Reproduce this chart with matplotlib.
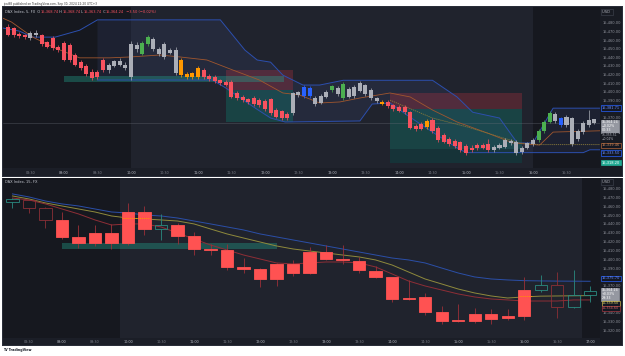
import matplotlib
matplotlib.use("Agg")
import matplotlib.pyplot as plt
from matplotlib.patches import Rectangle
import numpy as np

plt.rcParams['font.family'] = ['DejaVu Sans']

W, H = 625, 356

# ---------------- top panel: DAX Index, 5-minute bars ----------------
top_first_bar = "08:10"
top_bar_minutes = 5
top_open = [15476, 15474, 15468, 15466, 15463, 15469, 15466, 15458, 15463, 15452,
            15457, 15455, 15443, 15435, 15430, 15424, 15424, 15437, 15426, 15431,
            15436, 15432, 15418, 15455, 15445, 15456, 15462, 15450, 15441, 15446,
            15449, 15437, 15421, 15418, 15418, 15426, 15419, 15418, 15414, 15412,
            15412, 15399, 15395, 15392, 15394, 15391, 15390, 15392, 15380, 15378,
            15375, 15376, 15397, 15396, 15405, 15394, 15388, 15395, 15403, 15405,
            15393, 15404, 15396, 15402, 15408, 15403, 15393, 15389, 15389, 15385,
            15383, 15383, 15377, 15361, 15363, 15360, 15368, 15359, 15351, 15346,
            15344, 15342, 15338, 15336, 15339, 15339, 15340, 15333, 15336, 15337,
            15344, 15343, 15331, 15336, 15340, 15345, 15355, 15366, 15375, 15370,
            15362, 15370, 15346, 15354, 15362, 15368.74]
top_high = [15479, 15476, 15470, 15468, 15471, 15472, 15468, 15460, 15465, 15455,
            15459, 15457, 15446, 15437, 15433, 15427, 15426, 15440, 15434, 15438,
            15440, 15435, 15460, 15458, 15459, 15466, 15464, 15452, 15458, 15451,
            15452, 15440, 15424, 15424, 15430, 15428, 15421, 15420, 15416, 15414,
            15414, 15402, 15397, 15394, 15396, 15393, 15392, 15394, 15382, 15380,
            15377, 15401, 15402, 15408, 15407, 15396, 15398, 15403, 15409, 15407,
            15412, 15406, 15408, 15413, 15410, 15405, 15395, 15391, 15391, 15387,
            15385, 15385, 15379, 15363, 15366, 15369, 15370, 15361, 15353, 15348,
            15346, 15344, 15340, 15339, 15341, 15341, 15346, 15339, 15341, 15347,
            15346, 15345, 15338, 15343, 15347, 15357, 15368, 15378, 15377, 15372,
            15374, 15372, 15357, 15367, 15380, 15368.74]
top_low = [15465, 15464, 15463, 15462, 15461, 15464, 15454, 15451, 15449, 15447,
           15436, 15435, 15430, 15426, 15419, 15414, 15415, 15424, 15423, 15429,
           15430, 15426, 15414, 15447, 15443, 15454, 15448, 15442, 15439, 15444,
           15420, 15418, 15416, 15416, 15416, 15416, 15413, 15411, 15409, 15407,
           15393, 15391, 15389, 15387, 15384, 15383, 15379, 15374, 15370, 15368,
           15368, 15374, 15395, 15394, 15394, 15384, 15386, 15393, 15401, 15396,
           15391, 15393, 15394, 15400, 15396, 15391, 15388, 15385, 15382, 15379,
           15377, 15375, 15357, 15355, 15356, 15358, 15353, 15343, 15341, 15338,
           15336, 15331, 15328, 15331, 15333, 15334, 15331, 15331, 15334, 15335,
           15339, 15328, 15329, 15334, 15338, 15343, 15353, 15364, 15365, 15360,
           15360, 15338, 15344, 15352, 15360, 15363.74]
top_close = [15467, 15466, 15465, 15464, 15469, 15466, 15456, 15453, 15451, 15449,
             15438, 15437, 15432, 15428, 15421, 15417, 15418, 15426, 15432, 15436,
             15432, 15428, 15456, 15450, 15457, 15464, 15450, 15444, 15456, 15449,
             15423, 15420, 15418, 15422, 15428, 15418, 15415, 15413, 15411, 15409,
             15395, 15393, 15391, 15389, 15386, 15385, 15381, 15376, 15372, 15370,
             15370, 15399, 15400, 15406, 15396, 15386, 15396, 15401, 15407, 15398,
             15410, 15395, 15406, 15411, 15398, 15393, 15390, 15387, 15384, 15381,
             15379, 15377, 15359, 15357, 15358, 15367, 15355, 15345, 15343, 15340,
             15338, 15333, 15330, 15333, 15335, 15336, 15333, 15337, 15339, 15345,
             15341, 15330, 15336, 15341, 15345, 15355, 15366, 15376, 15367, 15362,
             15372, 15340, 15355, 15365, 15367.74, 15364.24]
# bar colouring of the indicator: r=red, g=grey, G=green, b=blue, o=orange
top_codes = ("rrrr" "gg" "rrrrrrrrrrrr" "gggggg" "GG" "ggggg" "oooo"
             "rrrrrrrrrrrrrrrr" "gg" "bb" "ggg" "G" "g" "G" "gggggg" "o"
             "rrrrrrr" "o" "rrrrrrrrrrr" "gggggggg" "GGG" "g" "b" "gggggg")

# channel lines (time, price)
top_upper_t = ["08:05", "08:20", "08:32", "08:52", "09:14", "09:30", "11:20", "11:31",
               "11:42", "11:53", "12:05", "12:16", "12:34", "12:49", "13:10", "14:30",
               "14:52", "15:06", "15:30", "15:46", "16:00", "16:18", "17:00"]
top_upper_p = [15474.6, 15471.0, 15464.0, 15464.0, 15472.0, 15484.0, 15484.0, 15466.5,
               15449.0, 15437.5, 15435.0, 15420.0, 15408.5, 15408.5, 15414.0, 15414.0,
               15394.7, 15377.0, 15370.3, 15341.4, 15341.4, 15381.71, 15381.71]
top_lower_t = ["09:30", "11:13", "11:25", "11:38", "11:51", "12:05", "12:18", "13:25",
               "13:36", "13:52", "14:07", "14:30", "14:55", "15:01", "16:45", "16:51", "17:00"]
top_lower_p = [15414.3, 15414.3, 15405.0, 15393.5, 15382.0, 15370.3, 15365.7, 15366.9,
               15386.5, 15387.7, 15373.8, 15354.0, 15333.3, 15330.2, 15330.2, 15333.5, 15333.5]
top_mid_t = ["08:05", "08:13", "08:32", "08:52", "09:14", "09:41", "09:59", "10:26", "10:44",
             "11:08", "11:31", "11:55", "12:16", "12:31", "12:49", "13:07", "13:25", "13:52",
             "14:10", "14:30", "14:52", "15:19", "15:42", "16:06", "16:18", "17:00"]
top_mid_p = [15486.1, 15481.5, 15464.0, 15451.4, 15440.0, 15440.0, 15441.0, 15443.3, 15441.0,
             15437.5, 15426.0, 15414.3, 15399.3, 15397.0, 15387.7, 15388.9, 15393.5, 15399.3,
             15394.7, 15379.6, 15365.7, 15353.0, 15341.4, 15339.0, 15354.0, 15355.51]
top_signal_t = ["13:52", "14:30", "15:01", "15:48", "16:06", "17:00"]
top_signal_p = [15391.0, 15370.3, 15360.0, 15341.4, 15339.46, 15339.46]

# zones: (start, end, low, high)
zone_strip = ("09:00", "12:17", 15412.5, 15419.5)
pos1_stop = ("11:25", "12:25", 15402.8, 15425.9)
pos1_target = ("11:25", "12:25", 15365.7, 15402.8)
pos2_stop = ("13:52", "15:50", 15380.8, 15399.3)
pos2_target = ("13:52", "15:50", 15318.2, 15380.8)
pos2_band = ("13:52", "15:50", 15318.2, 15334.0)

# ---------------- bottom panel: DAX Index, 15-minute bars ----------------
bot_first_bar = "08:15"
bot_bar_minutes = 15
bot_open = [15465.5, 15458.5, 15445, 15445, 15425.5, 15430, 15430, 15454, 15454, 15435,
            15439, 15427, 15412.5, 15411, 15392, 15390, 15395, 15395, 15409, 15409,
            15401, 15399, 15387, 15380.5, 15357, 15358, 15341, 15332, 15339, 15339,
            15336.5, 15366, 15366, 15347, 15347, 15359.74]
bot_high = [15470, 15468, 15460, 15454, 15439, 15439, 15440, 15464, 15461, 15452,
            15441, 15431, 15418, 15418, 15402, 15391, 15396, 15400, 15414, 15417,
            15417, 15403, 15393, 15381, 15377, 15363, 15348, 15350, 15345, 15344,
            15344, 15380.5, 15383, 15386, 15388, 15370]
bot_low = [15458, 15453, 15436, 15423, 15413, 15415, 15412, 15417, 15428, 15422,
           15418, 15405, 15405, 15389, 15385, 15369, 15370, 15382, 15384, 15400,
           15395, 15385, 15379, 15352, 15354, 15338, 15327, 15330, 15328, 15327,
           15332, 15332, 15363.5, 15334, 15345, 15352]
bot_close = [15468.5, 15467, 15458, 15426, 15419, 15419, 15419, 15419, 15435, 15439,
             15427, 15412, 15411.5, 15392, 15390, 15378, 15378, 15385, 15385, 15401,
             15400, 15388, 15380.5, 15355.7, 15356, 15341, 15331, 15331, 15331, 15333,
             15334, 15336.5, 15371.5, 15371.5, 15359.74, 15364.24]
# R = filled red, T = hollow teal, D = hollow dark red
bot_codes = "TDDRRRRRRTRRRRRRRRRRRRRRRRRRRRRRTDTT"
bot_ma_slow = [15474.4, 15471.0, 15466.4, 15463.1, 15460.8, 15457.4, 15454.0, 15452.9, 15450.6, 15449.5,
               15447.2, 15443.8, 15440.5, 15437.1, 15433.7, 15429.2, 15425.8, 15422.4, 15419.0, 15415.6,
               15412.2, 15408.8, 15405.4, 15402.0, 15399.8, 15396.4, 15390.7, 15385.1, 15380.6, 15378.3,
               15377.2, 15376.4, 15376.1, 15375.9, 15375.8, 15375.7]
bot_ma_mid = [15472.1, 15468.7, 15464.2, 15460.8, 15457.4, 15454.0, 15449.5, 15447.2, 15446.1, 15445.0,
              15443.8, 15440.5, 15434.8, 15429.2, 15424.6, 15420.1, 15415.6, 15412.2, 15409.9, 15407.7,
              15405.4, 15403.2, 15399.8, 15394.1, 15386.2, 15378.3, 15372.7, 15367.0, 15362.5, 15359.1,
              15356.8, 15358.0, 15358.9, 15359.1, 15359.3, 15359.5]
bot_ma_fast = [15469.8, 15467.6, 15463.1, 15457.4, 15451.8, 15445.0, 15439.3, 15440.5, 15440.5, 15437.1,
               15430.3, 15423.5, 15416.7, 15411.1, 15405.4, 15400.9, 15396.4, 15395.3, 15396.4, 15397.5,
               15397.5, 15396.4, 15391.9, 15384.0, 15376.0, 15370.4, 15365.9, 15361.4, 15358.0, 15355.7,
               15354.6, 15353.4, 15353.4, 15353.4, 15354.6, 15354.6]
bot_zone = ("09:00", "12:15", 15412.0, 15419.0)
bot_marks = [("09:55", "10:20", 15447.6), ("15:55", "16:07", 15359.1)]

price_ticks = [15480, 15470, 15460, 15450, 15440, 15430, 15420, 15410, 15400, 15390,
               15380, 15370, 15360, 15350, 15340, 15330, 15320]
top_hidden_ticks = [15380, 15360, 15350, 15340, 15330, 15320]   # under value labels
bot_hidden_ticks = [15380, 15360, 15350]
top_time_ticks = ["08:30", "09:00", "09:30", "10:00", "10:30", "11:00", "11:30", "12:00", "12:30",
                  "13:00", "13:30", "14:00", "14:30", "15:00", "15:30", "16:00", "16:30"]
bot_time_ticks = top_time_ticks + ["17:00"]

# ---------------- helpers ----------------
def m(s):
    h, mm = s.split(":")
    return int(h) * 60 + int(mm)

def frect(x0, y0, x1, y1):
    return [x0 / W, 1 - y1 / H, (x1 - x0) / W, (y1 - y0) / H]

def fig_box(x0, y0, x1, y1, color, z=-1):
    fig.add_artist(Rectangle((x0 / W, 1 - y1 / H), (x1 - x0) / W, (y1 - y0) / H,
                             transform=fig.transFigure, facecolor=color,
                             edgecolor=color, linewidth=0, zorder=z))

BG_LIGHT = '#20232d'
BG_DARK = '#16181f'
STRIP = '#1b1e27'
PAXIS = '#181b23'
GRAYTXT = '#8f929b'
RED = '#f7525f'
TEAL = '#22ab94'

fig = plt.figure(figsize=(6.25, 3.56), dpi=100)
fig.patch.set_facecolor('white')

# frames / strips (drawn below the axes)
fig_box(2, 6, 623, 176.5, '#2a2e39', z=-3)
fig_box(3, 7, 622, 176, STRIP, z=-2)
fig_box(600, 7, 622, 176, PAXIS, z=-1)
fig_box(2, 177.5, 623, 346, '#2a2e39', z=-3)
fig_box(3, 178, 622, 345, STRIP, z=-2)
fig_box(600, 178, 622, 345, PAXIS, z=-1)

ax1 = fig.add_axes(frect(3, 7, 600, 168))
ax2 = fig.add_axes(frect(3, 178, 600, 338))
for ax in (ax1, ax2):
    ax.set_facecolor(BG_LIGHT)
    for s in ax.spines.values():
        s.set_visible(False)
    ax.set_xticks([])
    ax.set_yticks([])

ax1.set_xlim(485.4, 1020.0)
ax1.set_ylim(15312.4, 15498.9)
ax2.set_xlim(486.4, 1029.0)
ax2.set_ylim(15311.6, 15492.4)

# session shading
ax1.axvspan(400, 600, color=BG_DARK, zorder=0, lw=0)
ax1.axvspan(960, 1100, color=BG_DARK, zorder=0, lw=0)
ax2.axvspan(400, 592.5, color=BG_DARK, zorder=0, lw=0)
ax2.axvspan(1012.5, 1100, color=BG_DARK, zorder=0, lw=0)

# ---------------- top panel drawing ----------------
t0 = m(top_first_bar)
top_t = np.array([t0 + top_bar_minutes * i for i in range(len(top_close))])
ut = np.array([m(s) for s in top_upper_t]); up = np.array(top_upper_p)
lt = np.array([m(s) for s in top_lower_t]); lp = np.array(top_lower_p)
sel = ut >= m("09:30")
poly_x = np.concatenate([ut[sel], lt[::-1]])
poly_y = np.concatenate([up[sel], lp[::-1]])
ax1.fill(poly_x, poly_y, color='#3a4a7a', alpha=0.2, lw=0, zorder=1)
ax1.plot(ut, up, color='#2c4fae', lw=0.7, zorder=2)
ax1.plot(lt, lp, color='#2c4fae', lw=0.7, zorder=2)
ax1.plot([m(s) for s in top_mid_t], top_mid_p, color='#a0562e', lw=0.6, zorder=2)
ax1.plot([m(s) for s in top_signal_t], top_signal_p, color='#8a7a3a', lw=0.6, ls=(0, (1.5, 1)), zorder=2)

def zone(ax, z, color, alpha, zord=1.5):
    ax.add_patch(Rectangle((m(z[0]), z[2]), m(z[1]) - m(z[0]), z[3] - z[2],
                           facecolor=color, alpha=alpha, lw=0, zorder=zord))

zone(ax1, pos1_stop, '#f23645', 0.22)
zone(ax1, pos1_target, '#089981', 0.28)
zone(ax1, pos2_stop, '#f23645', 0.22)
zone(ax1, pos2_target, '#089981', 0.28)
zone(ax1, pos2_band, '#131722', 0.35)
zone(ax1, zone_strip, TEAL, 0.35, zord=1.6)

ax1.axhline(top_close[-1], color='#6a6d78', lw=0.4, alpha=0.6, zorder=1.7)

cmap = {'r': RED, 'g': '#abaeb7', 'G': '#4caf50', 'b': '#2962ff', 'o': '#ff9800'}
top_cols = [cmap[c] for c in top_codes]
o = np.array(top_open); c = np.array(top_close)
ax1.vlines(top_t, top_low, top_high, colors=top_cols, lw=0.5, zorder=3)
ax1.bar(top_t, np.maximum(np.abs(c - o), 0.4), bottom=np.minimum(o, c), width=3.6,
        color=top_cols, lw=0, zorder=4)

# ---------------- bottom panel drawing ----------------
b0 = m(bot_first_bar)
bot_t = np.array([b0 + bot_bar_minutes * i for i in range(len(bot_close))])
ax2.plot(bot_t, bot_ma_slow, color='#2b4fa8', lw=0.7, zorder=2)
ax2.plot(bot_t, bot_ma_mid, color='#8f8a3c', lw=0.7, zorder=2)
ax2.plot(bot_t, bot_ma_fast, color='#8e2e36', lw=0.7, zorder=2)
zone(ax2, bot_zone, TEAL, 0.35)
for a, b, p in bot_marks:
    ax2.plot([m(a), m(b)], [p, p], color='#ff9800', lw=0.7, ls=(0, (1, 1)), zorder=6)

bo = np.array(bot_open); bc = np.array(bot_close)
edge_map = {'R': '#ff5252', 'T': '#2a8a80', 'D': '#8b2f36'}
wick_map = {'R': '#9c3038', 'T': '#2a8a80', 'D': '#8b2f36'}
for i, code in enumerate(bot_codes):
    top_b = max(bo[i], bc[i]); low_b = min(bo[i], bc[i])
    ax2.vlines(bot_t[i], top_b, bot_high[i], colors=wick_map[code], lw=0.6, zorder=3)
    ax2.vlines(bot_t[i], bot_low[i], low_b, colors=wick_map[code], lw=0.6, zorder=3)
    face = '#ff5252' if code == 'R' else 'none'
    ax2.bar(bot_t[i], max(top_b - low_b, 0.6), bottom=low_b, width=11,
            facecolor=face, edgecolor=edge_map[code], lw=0.6, zorder=4)

# ---------------- axes texts ----------------
FS = 2.6

def time_labels(ax, ticks, ypos):
    for s in ticks:
        col = '#b8bbc4' if s.endswith(":00") else '#7e818b'
        ax.text(m(s), ypos, s, transform=ax.get_xaxis_transform(), ha='center', va='center',
                fontsize=FS - 0.2, color=col, clip_on=False, zorder=10)

time_labels(ax1, top_time_ticks, -4.7 / 161)
time_labels(ax2, bot_time_ticks, -4.0 / 160)

def price_ticks_draw(ax, hidden):
    lo, hi = ax.get_ylim()
    for p in price_ticks:
        if lo < p < hi and p not in hidden:
            ax.text(1.004, p, f"{p:,.2f}", transform=ax.get_yaxis_transform(), ha='left',
                    va='center', fontsize=FS, color=GRAYTXT, clip_on=False, zorder=10)

price_ticks_draw(ax1, top_hidden_ticks)
price_ticks_draw(ax2, bot_hidden_ticks)

def plabel(ax, price, text, face, edge, color, fs=FS, pad=0.25):
    ax.text(1.0035, price, text, transform=ax.get_yaxis_transform(), ha='left', va='center',
            fontsize=fs, color=color, clip_on=False, zorder=20, linespacing=1.0,
            bbox=dict(boxstyle=f'square,pad={pad}', facecolor=face, edgecolor=edge, linewidth=0.5))

# unit labels
plabel(ax1, 15492.7, "USD  ", PAXIS, '#3a3e49', '#b2b5be')
plabel(ax2, 15487.6, "USD  ", PAXIS, '#3a3e49', '#b2b5be')

# top panel value labels
plabel(ax1, 15381.8, f"{top_upper_p[-1]:,.2f}", '#131722', '#2962ff', '#6d8fff')
chg_top = top_close[-1] - top_close[-2]
plabel(ax1, 15360.6, f"{top_close[-1]:,.2f}\n{chg_top / top_close[-2] * 100:+.2f}%\n00:33".replace('-', '\u2212'),
       '#9598a1', '#9598a1', 'white', fs=2.3, pad=0.2)
plabel(ax1, 15347.8, f"{top_mid_p[-1]:,.2f}\n\u22120.02%", PAXIS, PAXIS, '#b2b5be', fs=2.2, pad=0.1)
plabel(ax1, 15338.6, f"{top_signal_p[-1]:,.2f}", '#131722', '#b0643a', '#d08a5a', pad=0.2)
plabel(ax1, 15330.0, f"{top_lower_p[-1]:,.2f}", '#131722', '#2962ff', '#6d8fff', pad=0.2)
plabel(ax1, 15318.6, f"{pos2_target[2]:,.2f}", TEAL, TEAL, 'white', pad=0.2)

# bottom panel value labels
plabel(ax2, 15379.1, f"{bot_ma_slow[-1]:,.2f}", '#131722', '#2962ff', '#6d8fff', pad=0.2)
chg_bot = bot_close[-1] - bot_close[-2]
plabel(ax2, 15360.8, f"{bot_close[-1]:,.2f}\n{chg_bot / bot_close[-2] * 100:+.2f}%\n29:33",
       '#9598a1', '#9598a1', 'white', fs=2.3, pad=0.2)
plabel(ax2, 15350.9, f"{bot_ma_mid[-1]:,.2f}", '#131722', '#c9b44a', '#e0cf6a', fs=2.4, pad=0.15)
plabel(ax2, 15345.0, f"{bot_ma_fast[-1]:,.2f}", '#131722', '#a0343c', '#d06068', fs=2.4, pad=0.15)

# ---------------- header texts ----------------
fig.text(3 / W, 1 - 4.3 / H, "jicai98 published on TradingView.com, Sep 30, 2024 22:20 UTC+3",
         fontsize=2.1, color='#333333', va='center', ha='left')
fig.text(3 / W, 1 - 350 / H, "TV TradingView", fontsize=2.3, color='#131722', va='center',
         ha='left', fontweight='bold')

def chain_title(x, y, pieces):
    prev = fig.text(x / W, 1 - y / H, pieces[0][0], fontsize=FS, color=pieces[0][1],
                    va='center', ha='left', zorder=30)
    for txt, col in pieces[1:]:
        prev = ax1.annotate(txt, xy=(1, 0.5), xycoords=prev, xytext=(0, 0),
                            textcoords='offset points', va='center', ha='left',
                            fontsize=FS, color=col, annotation_clip=False, zorder=30)

def ohlc_pieces(name, o_, h_, l_, c_, prev_c, col):
    ch = c_ - prev_c
    pct = ch / prev_c * 100
    sign = '+' if ch >= 0 else '\u2212'
    return [(name, '#c3c6ce'), ("  O", '#c3c6ce'), (f"{o_:,.2f}", col), (" H", '#c3c6ce'),
            (f"{h_:,.2f}", col), (" L", '#c3c6ce'), (f"{l_:,.2f}", col), (" C", '#c3c6ce'),
            (f"{c_:,.2f}", col), (f"  {sign}{abs(ch):.2f} ({sign}{abs(pct):.2f}%)", col)]

chain_title(5, 12.3, ohlc_pieces("DAX Index, 5, FX", top_open[-1], top_high[-1], top_low[-1],
                                 top_close[-1], top_close[-2], '#f7525f'))
chain_title(5, 182.3, ohlc_pieces("DAX Index, 15, FX", bot_open[-1], bot_high[-1], bot_low[-1],
                                  bot_close[-1], bot_close[-2], '#22ab94'))

fig.savefig("out.png", dpi=100, facecolor='white')
